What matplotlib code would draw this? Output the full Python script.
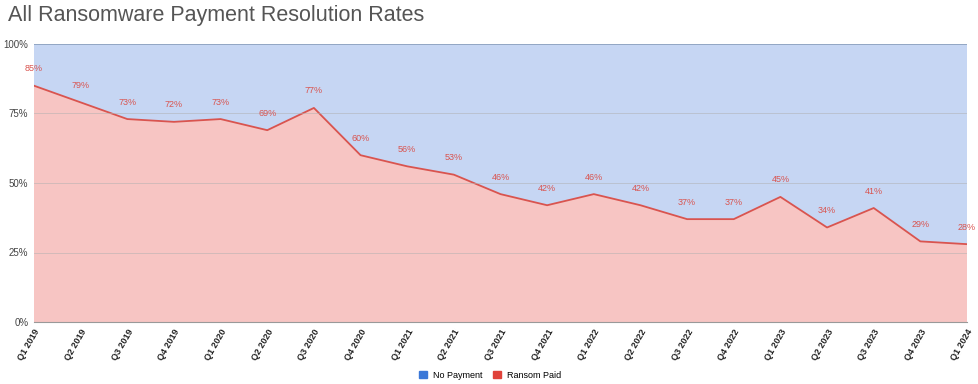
import matplotlib
matplotlib.use('Agg')
import matplotlib.pyplot as plt
from matplotlib.patches import Patch
import numpy as np

plt.rcParams['font.family'] = ['Liberation Sans', 'DejaVu Sans']

# data
quarters = ['Q1 2019', 'Q2 2019', 'Q3 2019', 'Q4 2019', 'Q1 2020', 'Q2 2020', 'Q3 2020',
            'Q4 2020', 'Q1 2021', 'Q2 2021', 'Q3 2021', 'Q4 2021', 'Q1 2022', 'Q2 2022',
            'Q3 2022', 'Q4 2022', 'Q1 2023', 'Q2 2023', 'Q3 2023', 'Q4 2023', 'Q1 2024']
ransom_paid = [85, 79, 73, 72, 73, 69, 77, 60, 56, 53, 46, 42, 46, 42, 37, 37, 45, 34, 41, 29, 28]
no_payment = [100 - v for v in ransom_paid]

blue_fill = '#c6d6f3'
red_fill = '#f7c5c3'
red_line = '#d9544f'
blue_line = '#6f9ad8'

fig = plt.figure(figsize=(9.79, 3.84), dpi=100)
ax = fig.add_axes([34 / 979, 1 - 322 / 384, (967 - 34) / 979, (322 - 44) / 384])

x = np.arange(len(quarters))
ax.stackplot(x, ransom_paid, no_payment, colors=[red_fill, blue_fill], linewidth=0)
ax.plot(x, ransom_paid, color=red_line, lw=1.3)
ax.plot(x, np.array(ransom_paid) + np.array(no_payment), color=blue_line, lw=1.3)

for xi, v in zip(x, ransom_paid):
    ax.annotate(f'{v}%', (xi, v), xytext=(0, 9), textcoords='offset points',
                ha='center', va='bottom', fontsize=6.5, color=red_line)

ax.set_xlim(0, len(quarters) - 1)
ax.set_ylim(0, 100)
ax.set_yticks([0, 25, 50, 75, 100])
ax.set_yticklabels(['0%', '25%', '50%', '75%', '100%'], fontsize=7, color='#444444')
ax.set_xticks(x)
ax.set_xticklabels(quarters, rotation=60, ha='right', rotation_mode='anchor',
                   fontsize=6.5, fontweight='bold', color='#222222')
ax.tick_params(length=0, pad=4)
ax.grid(True, axis='y', color='#b0b0b0', lw=0.6, alpha=0.6)
ax.set_axisbelow(False)
for s in ['top', 'right', 'left']:
    ax.spines[s].set_visible(False)
ax.spines['bottom'].set_color('#999999')

fig.text(8 / 979, 1 - 16 / 384, 'All Ransomware Payment Resolution Rates',
         fontsize=15.5, color='#555555', va='center', ha='left')

handles = [Patch(color='#3b78d8', label='No Payment'), Patch(color='#e0423a', label='Ransom Paid')]
fig.legend(handles=handles, loc='center', bbox_to_anchor=(490 / 979, 1 - 375 / 384), ncol=2,
           frameon=False, fontsize=6.5, handlelength=0.9, handleheight=0.9, columnspacing=1.2,
           handletextpad=0.6)

fig.savefig('out.png', dpi=100)
